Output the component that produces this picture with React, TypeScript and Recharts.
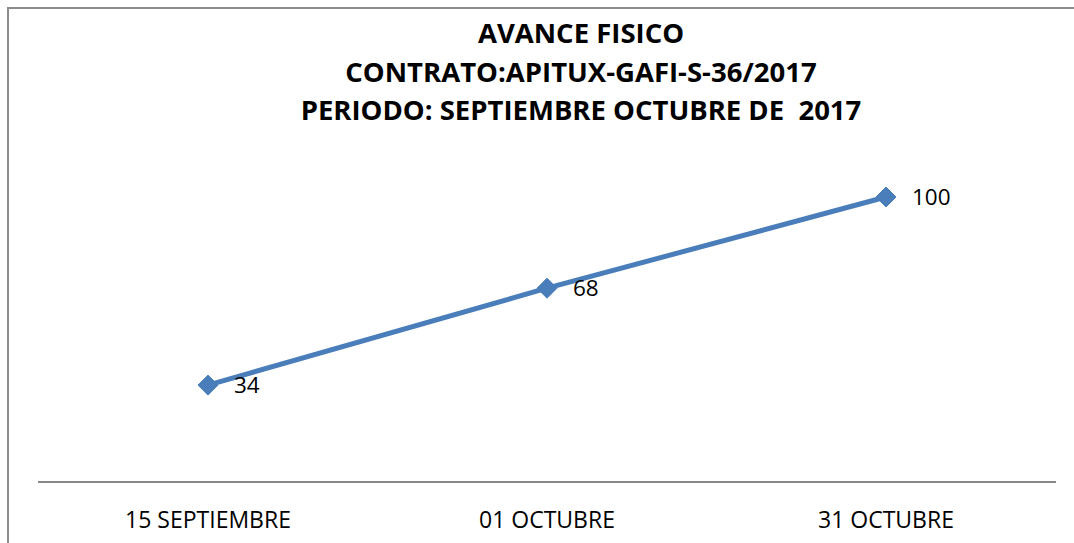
import { LineChart, Line, XAxis, YAxis, LabelList } from "recharts";

const fechas = ["15 SEPTIEMBRE", "01 OCTUBRE", "31 OCTUBRE"];
const avance = [34, 68, 100];
const titulo = [
  "AVANCE FISICO",
  "CONTRATO:APITUX-GAFI-S-36/2017",
  "PERIODO: SEPTIEMBRE OCTUBRE DE  2017",
];

const data = fechas.map((f, i) => ({ fecha: f, avance: avance[i] }));

const FONT = "'Open Sans', sans-serif";
const BLUE = "#4A7EBB";

function Diamond(props: any) {
  const { cx, cy } = props;
  if (cx == null || cy == null) return null;
  const r = 10;
  return (
    <polygon
      points={`${cx},${cy - r} ${cx + r},${cy} ${cx},${cy + r} ${cx - r},${cy}`}
      fill={BLUE}
      stroke={BLUE}
    />
  );
}

function ValueLabel(props: any) {
  const { x, y, value } = props;
  return (
    <text
      x={x + 26}
      y={y + 2}
      fontSize={22.5}
      fontFamily={FONT}
      fill="#000"
      dominantBaseline="middle"
    >
      {value}
    </text>
  );
}

function FechaTick(props: any) {
  const { x, y, payload } = props;
  return (
    <text
      x={x}
      y={y + 32}
      textAnchor="middle"
      dominantBaseline="middle"
      fontSize={23}
      fontFamily={FONT}
      fill="#000"
    >
      {payload.value}
    </text>
  );
}

export default function App() {
  return (
    <div
      style={{
        position: "absolute",
        left: 0,
        top: 0,
        width: 1074,
        height: 543,
        overflow: "hidden",
        background: "#fff",
      }}
    >
      <div
        style={{
          position: "absolute",
          left: 7,
          top: 7,
          width: 1200,
          height: 700,
          border: "2px solid #8c8c8c",
        }}
      />
      {titulo.map((t, i) => (
        <div
          key={i}
          style={{
            position: "absolute",
            left: 0,
            width: 1162,
            top: 14 + i * 38.5,
            textAlign: "center",
            fontFamily: FONT,
            fontWeight: "bold",
            fontSize: 27.5,
            lineHeight: "38px",
            color: "#000",
            whiteSpace: "pre",
          }}
        >
          {t}
        </div>
      ))}
      <div style={{ position: "absolute", left: 0, top: 0 }}>
        <LineChart
          width={1074}
          height={543}
          data={data}
          margin={{ top: 140, right: 18, bottom: 0, left: 38 }}
        >
          <XAxis
            dataKey="fecha"
            axisLine={{ stroke: "#898989", strokeWidth: 2 }}
            tickLine={false}
            tick={<FechaTick />}
            height={61}
            padding={{ left: 170, right: 170 }}
            interval={0}
          />
          <YAxis hide domain={[0, 120]} />
          <Line
            type="linear"
            dataKey="avance"
            stroke={BLUE}
            strokeWidth={5}
            dot={<Diamond />}
            activeDot={false}
            isAnimationActive={false}
          >
            <LabelList dataKey="avance" content={<ValueLabel />} />
          </Line>
        </LineChart>
      </div>
    </div>
  );
}
